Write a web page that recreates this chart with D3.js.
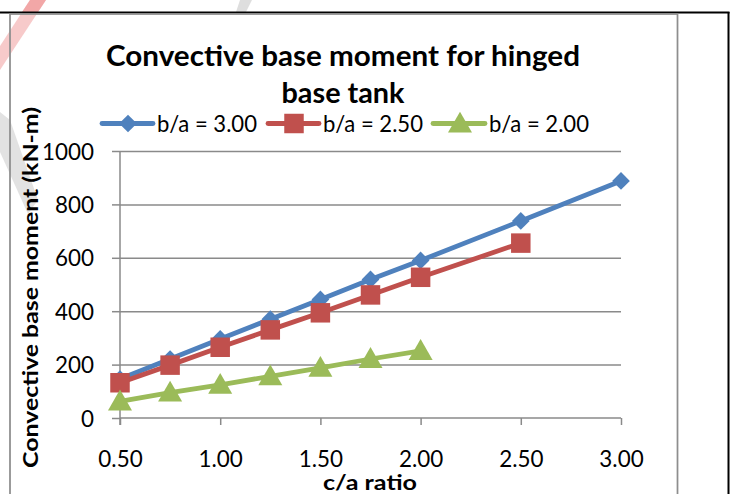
<!DOCTYPE html>
<html>
<head>
<meta charset="utf-8">
<script src="https://cdn.jsdelivr.net/npm/d3@7"></script>
<style>
  html, body { margin: 0; padding: 0; background: #fff; }
  svg { display: block; }
  text { font-family: Lato, "Open Sans", sans-serif; fill: #000; }
</style>
</head>
<body>
<svg id="chart" width="733" height="494"></svg>
<script>
// c/a ratio values along the x axis
const ratioBA300 = [0.50, 0.75, 1.00, 1.25, 1.50, 1.75, 2.00, 2.50, 3.00];
const ratioBA250 = [0.50, 0.75, 1.00, 1.25, 1.50, 1.75, 2.00, 2.50];
const ratioBA200 = [0.50, 0.75, 1.00, 1.25, 1.50, 1.75, 2.00];

// Convective base moment (kN-m)
const momentBA300 = [146, 221, 296, 370, 444, 519, 590, 738, 888];
const momentBA250 = [132, 198, 265, 330, 394, 461, 527, 655];
const momentBA200 = [62, 95, 124, 156, 188, 221, 251];

const seriesNames = ["b/a = 3.00", "b/a = 2.50", "b/a = 2.00"];
const xTickValues = [0.50, 1.00, 1.50, 2.00, 2.50, 3.00];
const yTickValues = [0, 200, 400, 600, 800, 1000];

const titleLines = ["Convective base moment for hinged", "base tank"];
const xAxisTitle = "c/a ratio";
const yAxisTitle = "Convective base moment (kN-m)";

const series = [
  { name: seriesNames[0], x: ratioBA300, y: momentBA300, color: "#4F81BD", marker: "diamond" },
  { name: seriesNames[1], x: ratioBA250, y: momentBA250, color: "#C0504D", marker: "square" },
  { name: seriesNames[2], x: ratioBA200, y: momentBA200, color: "#9BBB59", marker: "triangle" }
];

const svg = d3.select("#chart");

// stretch or squeeze a text run to span the given width
function spanWidth(sel, width) {
  return sel.attr("textLength", width).attr("lengthAdjust", "spacingAndGlyphs");
}

// font size at which a text node spans the given width
function sizeForWidth(node, width) {
  const fs = parseFloat(d3.select(node).attr("font-size"));
  return fs * width / node.getComputedTextLength();
}

// faint logo shapes behind the chart frame
const wm = svg.append("g");
wm.append("polygon").attr("points", "30,0 46,0 0,70 0,46").attr("fill", "#f3b3b3").attr("opacity", 0.7);
wm.append("polygon").attr("points", "30,0 46,0 38,12 22,12").attr("fill", "#ee8f8f").attr("opacity", 0.6);
wm.append("polygon").attr("points", "0,112 10,120 38,200 28,214 0,152").attr("fill", "#d6d6d6").attr("opacity", 0.7);
wm.append("polygon").attr("points", "240,0 252,0 246,12 236,12").attr("fill", "#d0d0d0").attr("opacity", 0.7);

// outer frame
svg.append("line").attr("x1", 0).attr("x2", 729.5).attr("y1", 12.5).attr("y2", 12.5)
  .attr("stroke", "#000").attr("stroke-width", 2);
svg.append("line").attr("x1", 728.5).attr("x2", 728.5).attr("y1", 12).attr("y2", 494)
  .attr("stroke", "#000").attr("stroke-width", 2);

// chart area border
svg.append("rect").attr("x", 10).attr("y", 14).attr("width", 667.5).attr("height", 500)
  .attr("fill", "none").attr("stroke", "#8e8e8e").attr("stroke-width", 1.75);

// scales
const x = d3.scaleLinear().domain([0.5, 3.0]).range([120, 621]);
const y = d3.scaleLinear().domain([0, 1000]).range([418, 151]);

// horizontal gridlines
svg.append("g")
  .attr("transform", `translate(${x.range()[0]},0)`)
  .call(d3.axisLeft(y).tickValues(yTickValues.filter(v => v > 0))
    .tickSize(-(x.range()[1] - x.range()[0])).tickFormat(""))
  .call(g => g.select(".domain").remove())
  .call(g => g.selectAll("line").attr("stroke", "#8a8a8a").attr("stroke-width", 1.5));

// y axis
const yAxis = svg.append("g")
  .attr("transform", `translate(${x.range()[0]},0)`)
  .call(d3.axisLeft(y).tickValues(yTickValues).tickSize(8).tickSizeOuter(0).tickPadding(18)
    .tickFormat(d3.format("d")));
yAxis.select(".domain").attr("stroke", "#8a8a8a").attr("stroke-width", 1.5)
  .attr("d", `M0,${y(1000)}V${y(0) + 7}`);
yAxis.selectAll("line").attr("stroke", "#8a8a8a").attr("stroke-width", 1.5);
const yLabels = yAxis.selectAll("text")
  .attr("font-size", 22).attr("font-family", "Lato, sans-serif")
  .attr("dy", "0.36em").style("fill", "#000");

// x axis
const xAxis = svg.append("g")
  .attr("transform", `translate(0,${y(0)})`)
  .call(d3.axisBottom(x).tickValues(xTickValues).tickSize(7).tickSizeOuter(0).tickPadding(30)
    .tickFormat(d3.format(".2f")));
xAxis.select(".domain").attr("stroke", "#8a8a8a").attr("stroke-width", 1.5)
  .attr("d", `M${x(0.5)},0H${x(3.0)}`);
xAxis.selectAll("line").attr("stroke", "#8a8a8a").attr("stroke-width", 1.5);
const xLabels = xAxis.selectAll("text")
  .attr("font-size", 22).attr("font-family", "Lato, sans-serif")
  .attr("dy", "0").style("fill", "#000");
xLabels.attr("y", 49);

// tick labels sized so that "1000" spans about 52px
const widest = yLabels.filter(d => d === 1000).node();
const tickSize = sizeForWidth(widest, 52).toFixed(2);
yLabels.attr("font-size", tickSize);
xLabels.attr("font-size", tickSize);

// marker shapes
const symbolFor = {
  diamond: d3.symbol().type(d3.symbolDiamond2).size(200),
  square: d3.symbol().type(d3.symbolSquare).size(380),
  triangle: d3.symbol().type(d3.symbolTriangle).size(250)
};

const line = d3.line().x(d => x(d[0])).y(d => y(d[1]));

const plot = svg.append("g");
series.forEach(s => {
  const pts = s.x.map((v, i) => [v, s.y[i]]);
  plot.append("path").datum(pts).attr("d", line)
    .attr("fill", "none").attr("stroke", s.color).attr("stroke-width", 4.8)
    .attr("stroke-linejoin", "round");
  plot.selectAll(null).data(pts).enter().append("path")
    .attr("d", symbolFor[s.marker])
    .attr("transform", d => `translate(${x(d[0])},${y(d[1]) + (s.marker === "triangle" ? 2 : 0)})`)
    .attr("fill", s.color);
});

// title
const titleY = [66, 103];
const titleWidths = [474, 123];
titleLines.forEach((t, i) => {
  const tt = svg.append("text").attr("x", 343).attr("y", titleY[i])
    .attr("text-anchor", "middle").attr("font-weight", 700).attr("font-size", 28).text(t);
  spanWidth(tt, titleWidths[i]);
});

// legend
const legendItems = [
  { lx: 102, mx: 128, ex: 153, tx: 157 },
  { lx: 268, mx: 294, ex: 319, tx: 323 },
  { lx: 433, mx: 460, ex: 485, tx: 489 }
];
const legendY = 123.5;
series.forEach((s, i) => {
  const it = legendItems[i];
  svg.append("line").attr("x1", it.lx).attr("x2", it.ex).attr("y1", legendY).attr("y2", legendY)
    .attr("stroke", s.color).attr("stroke-width", 4.8).attr("stroke-linecap", "round");
  svg.append("path").attr("d", symbolFor[s.marker])
    .attr("transform", `translate(${it.mx},${legendY + (s.marker === "triangle" ? 2 : 0)})`)
    .attr("fill", s.color);
  const lt = svg.append("text").attr("x", it.tx).attr("y", legendY + 8)
    .attr("font-size", 23).text(s.name);
  spanWidth(lt, 100);
});

// axis titles
const xt = svg.append("text").attr("x", 370).attr("y", 490).attr("text-anchor", "middle")
  .attr("font-weight", 700).attr("font-size", 21.5).text(xAxisTitle);
spanWidth(xt, 94);

const yt = svg.append("text").attr("transform", "translate(38,287.5) rotate(-90)")
  .attr("text-anchor", "middle").attr("font-weight", 700).attr("font-size", 20.5).text(yAxisTitle);
spanWidth(yt, 361);
</script>
</body>
</html>
